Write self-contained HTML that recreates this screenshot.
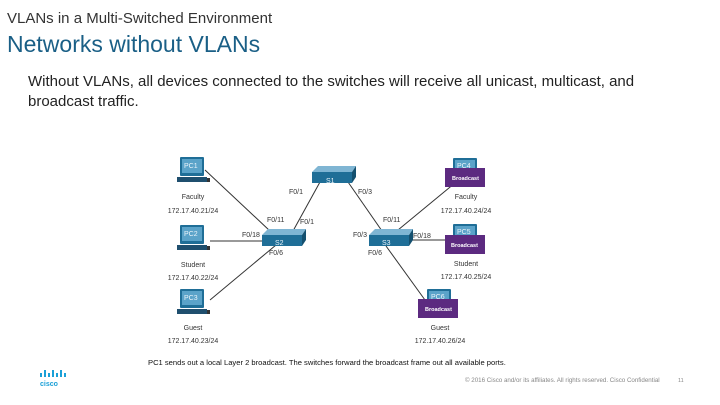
<!DOCTYPE html><html><head><style>
body{margin:0;width:720px;height:405px;background:#fff;font-family:"Liberation Sans",sans-serif;position:relative;overflow:hidden}
.a{position:absolute;white-space:nowrap}
</style></head><body>
<div class="a" style="left:7px;top:10px;font-size:15px;color:#333">VLANs in a Multi-Switched Environment</div>
<div class="a" style="left:7px;top:31px;font-size:23px;color:#1a5f86">Networks without VLANs</div>
<div class="a" style="left:28px;top:72px;font-size:15px;color:#222;line-height:20px">Without VLANs, all devices connected to the switches will receive all unicast, multicast, and<br>broadcast traffic.</div>
<svg class="a" style="left:0;top:0" width="720" height="405" font-family="Liberation Sans, sans-serif">
<g stroke="#333" stroke-width="1">
<line x1="205" y1="170" x2="270" y2="231"/><line x1="210" y1="241" x2="263" y2="241"/><line x1="210" y1="300" x2="276" y2="245"/>
<line x1="293" y1="231" x2="320" y2="182"/><line x1="348" y1="182" x2="382" y2="231"/>
<line x1="398" y1="230" x2="455" y2="183"/><line x1="408" y1="240" x2="446" y2="240"/><line x1="386" y1="246" x2="425" y2="300"/>
</g>
<defs><g id="pc"><rect x="0" y="0" width="24" height="19" rx="1" fill="#1f6e97"/><rect x="2" y="2" width="20" height="14" fill="#5ba3c9"/><rect x="-3" y="20" width="30" height="5" fill="#1f4f6e"/><rect x="27" y="21" width="3" height="4" fill="#333"/></g>
<g id="sw"><polygon points="6,0 44,0 40,6 0,6" fill="#7fb5d3"/><rect x="0" y="6" width="40" height="11" fill="#1f6e97"/><polygon points="40,6 44,0 44,11 40,17" fill="#14506f"/></g></defs>
<use href="#pc" x="180" y="157"/><use href="#pc" x="180" y="225"/><use href="#pc" x="180" y="289"/>
<use href="#pc" x="453" y="158"/><use href="#pc" x="453" y="224"/><use href="#pc" x="427" y="289"/>
<g font-size="7" fill="#eaf4fa"><text x="184" y="168">PC1</text><text x="184" y="236">PC2</text><text x="184" y="300">PC3</text><text x="457" y="168">PC4</text><text x="457" y="234">PC5</text><text x="431" y="299">PC6</text></g>
<use href="#sw" x="312" y="166"/><use href="#sw" x="262" y="229"/><use href="#sw" x="369" y="229"/>
<g font-size="7" fill="#eaf4fa"><text x="326" y="183">S1</text><text x="275" y="245">S2</text><text x="382" y="245">S3</text></g>
<g fill="#5c2a80"><rect x="445" y="168" width="40" height="19"/><rect x="445" y="235" width="40" height="19"/><rect x="418" y="299" width="40" height="19"/></g>
<g font-size="5.5" fill="#fff" font-weight="bold"><text x="452" y="180">Broadcast</text><text x="451" y="247">Broadcast</text><text x="425" y="311">Broadcast</text></g>
<g font-size="7" fill="#333">
<text x="289" y="194">F0/1</text><text x="358" y="194">F0/3</text><text x="267" y="222">F0/11</text><text x="300" y="224">F0/1</text><text x="242" y="237">F0/18</text><text x="269" y="255">F0/6</text>
<text x="383" y="222">F0/11</text><text x="353" y="237">F0/3</text><text x="413" y="238">F0/18</text><text x="368" y="255">F0/6</text>
<g text-anchor="middle"><text x="193" y="199">Faculty</text><text x="193" y="213">172.17.40.21/24</text><text x="193" y="267">Student</text><text x="193" y="280">172.17.40.22/24</text><text x="193" y="330">Guest</text><text x="193" y="343">172.17.40.23/24</text>
<text x="466" y="199">Faculty</text><text x="466" y="213">172.17.40.24/24</text><text x="466" y="266">Student</text><text x="466" y="279">172.17.40.25/24</text><text x="440" y="330">Guest</text><text x="440" y="343">172.17.40.26/24</text></g>
</g>
<text x="148" y="365" font-size="7.6" fill="#111">PC1 sends out a local Layer 2 broadcast. The switches forward the broadcast frame out all available ports.</text>
<text x="465" y="382" font-size="6.2" fill="#888">© 2016  Cisco and/or its affiliates. All rights reserved.   Cisco Confidential</text>
<text x="678" y="382" font-size="5.5" fill="#888">11</text>
<g fill="#1ba0d7"><rect x="40" y="373" width="2" height="4"/><rect x="44" y="370" width="2" height="7"/><rect x="48" y="373" width="2" height="4"/><rect x="52" y="370" width="2" height="7"/><rect x="56" y="373" width="2" height="4"/><rect x="60" y="370" width="2" height="7"/><rect x="64" y="373" width="2" height="4"/></g>
<text x="40" y="386" font-size="7" font-weight="bold" fill="#1ba0d7">cisco</text>
</svg>
</body></html>
